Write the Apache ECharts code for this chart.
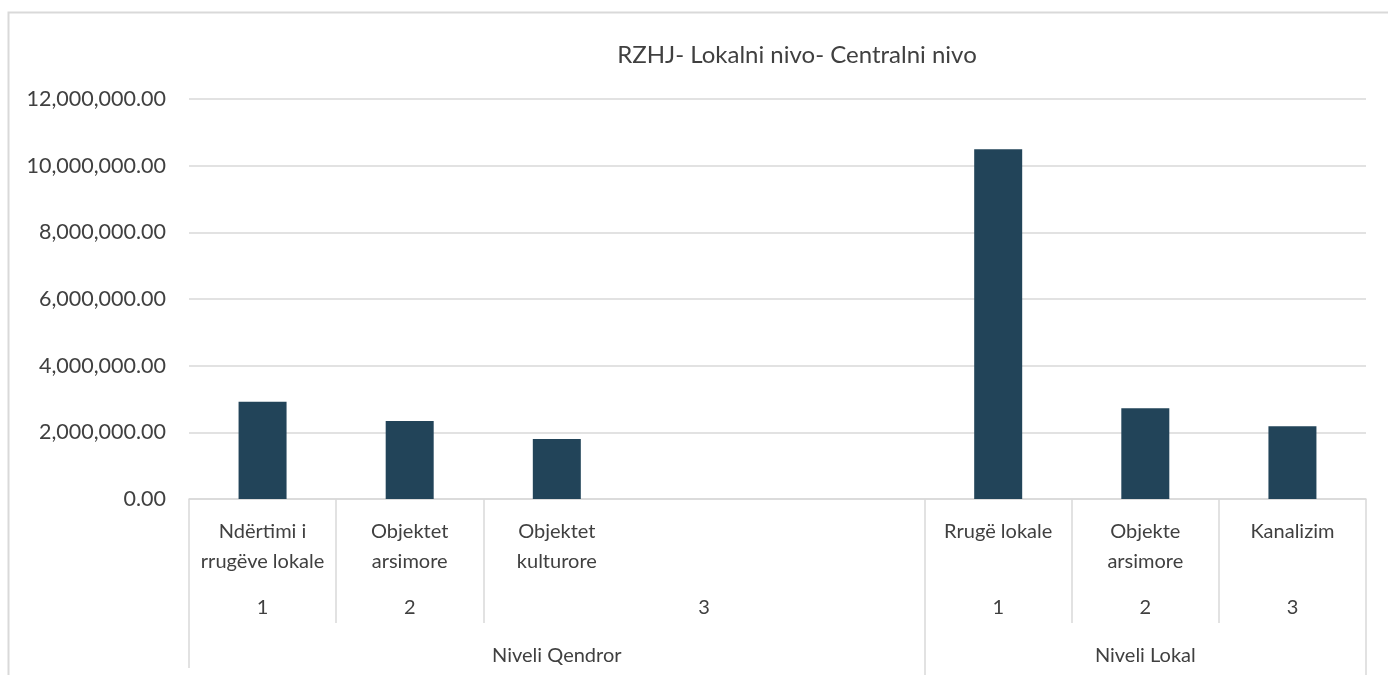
<!DOCTYPE html>
<html>
<head>
<meta charset="utf-8">
<script src="https://cdn.jsdelivr.net/npm/echarts@6/dist/echarts.min.js"></script>
<style>
html,body{margin:0;padding:0;background:#fff;}
#chart{width:1388px;height:675px;}
</style>
</head>
<body>
<div id="chart"></div>
<script>
var titleText = 'RZHJ- Lokalni nivo- Centralni nivo';
var categories = ['Ndërtimi i\nrrugëve lokale', 'Objektet\narsimore', 'Objektet\nkulturore', '', '', 'Rrugë lokale', 'Objekte\narsimore', 'Kanalizim'];
var subNumbers = ['1', '2', '', '3', '', '1', '2', '3'];
var groups = ['', '', 'Niveli Qendror', '', '', '', 'Niveli Lokal', ''];
var values = [2920000, 2340000, 1800000, null, null, 10490000, 2720000, 2180000];
var yTicks = [0, 2000000, 4000000, 6000000, 8000000, 10000000, 12000000];

var FONT = 'Lato';
var TXT = '#404040';
var GRID = '#d9d9d9';

function fmt(v) {
  var s = Math.round(v).toString().replace(/\B(?=(\d{3})+(?!\d))/g, ',');
  return s + '.00';
}

var chart = echarts.init(document.getElementById('chart'), null, {renderer: 'canvas'});
var nCat = categories.length;
var option = {
  animation: false,
  backgroundColor: '#fff',
  title: {
    text: titleText,
    left: 797,
    top: 41,
    padding: 0,
    textAlign: 'center',
    textStyle: {fontFamily: FONT, fontSize: 24, fontWeight: 'normal', color: TXT, lineHeight: 28}
  },
  graphic: [{
    type: 'rect',
    shape: {x: 8.5, y: 12.5, width: 2000, height: 2000},
    style: {fill: 'none', stroke: GRID, lineWidth: 2},
    silent: true
  }],
  grid: {left: 189, right: 22, top: 99, bottom: 176, containLabel: false},
  xAxis: [
    {
      type: 'category', data: categories, position: 'bottom',
      axisLine: {show: true, lineStyle: {color: GRID, width: 1.5}},
      axisTick: {show: false},
      axisLabel: {interval: 0, margin: 18, fontFamily: FONT, fontSize: 20, lineHeight: 30, color: TXT}
    },
    {
      type: 'category', data: subNumbers, position: 'bottom',
      axisLine: {show: false}, axisTick: {show: false},
      axisLabel: {interval: 0, margin: 94, fontFamily: FONT, fontSize: 20, lineHeight: 30, color: TXT}
    },
    {
      type: 'category', data: groups, position: 'bottom',
      axisLine: {show: false}, axisTick: {show: false},
      axisLabel: {interval: 0, margin: 142, fontFamily: FONT, fontSize: 20, lineHeight: 30, color: TXT}
    },
    {
      type: 'value', min: 0, max: nCat, position: 'bottom',
      axisLine: {show: false}, splitLine: {show: false}, axisLabel: {show: false},
      axisTick: {show: true, customValues: [1, 2, 6, 7], length: 124, lineStyle: {color: GRID, width: 1.5}}
    },
    {
      type: 'value', min: 0, max: nCat, position: 'bottom',
      axisLine: {show: false}, splitLine: {show: false}, axisLabel: {show: false},
      axisTick: {show: true, customValues: [0], length: 169, lineStyle: {color: GRID, width: 1.5}}
    },
    {
      type: 'value', min: 0, max: nCat, position: 'bottom',
      axisLine: {show: false}, splitLine: {show: false}, axisLabel: {show: false},
      axisTick: {show: true, customValues: [5, 8], length: 180, lineStyle: {color: GRID, width: 1.5}}
    }
  ],
  yAxis: {
    type: 'value', min: yTicks[0], max: yTicks[yTicks.length - 1], interval: yTicks[1] - yTicks[0],
    axisLine: {show: false}, axisTick: {show: false},
    splitLine: {lineStyle: {color: GRID, width: 1.5}},
    axisLabel: {margin: 23, fontFamily: FONT, fontSize: 21.5, color: TXT, formatter: fmt}
  },
  series: [{
    type: 'bar', xAxisIndex: 0, data: values, barWidth: 48,
    itemStyle: {color: '#224459'}
  }]
};
chart.setOption(option);
</script>
</body>
</html>
